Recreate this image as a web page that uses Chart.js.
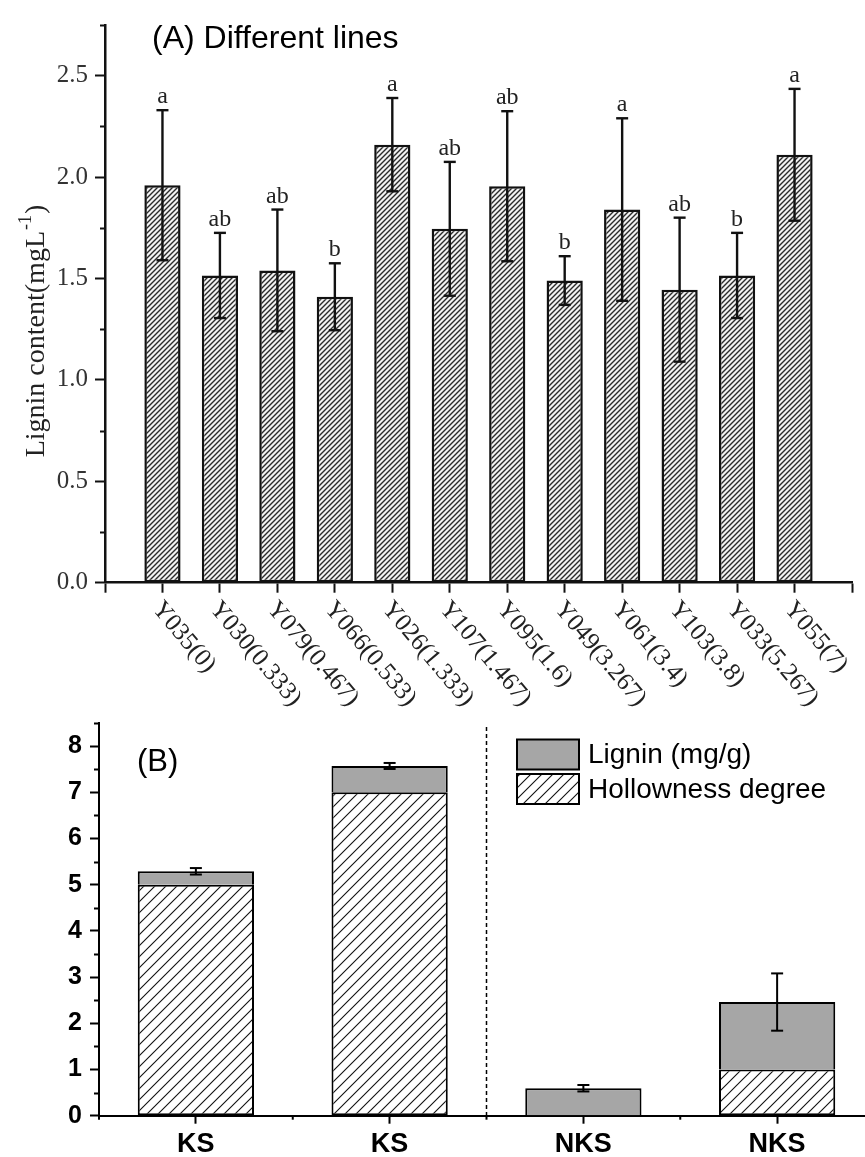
<!DOCTYPE html>
<html><head><meta charset="utf-8">
<script src="https://cdn.jsdelivr.net/npm/chart.js@4.4.0/dist/chart.umd.min.js"></script>
<style>
html,body{margin:0;padding:0;background:#fff;}
body{width:865px;height:1157px;overflow:hidden;position:relative;}
#ca{position:absolute;left:0;top:0;}
#cb{position:absolute;left:0;top:700px;}
</style></head><body>
<canvas id="ca" width="865" height="720"></canvas>
<canvas id="cb" width="880" height="457"></canvas>
<script>
// ---------- Panel A data ----------
const categoriesA = ['Y035(0)','Y030(0.333)','Y079(0.467)','Y066(0.533)','Y026(1.333)','Y107(1.467)','Y095(1.6)','Y049(3.267)','Y061(3.4)','Y103(3.8)','Y033(5.267)','Y055(7)'];
const ligninA = [1.96, 1.515, 1.54, 1.41, 2.16, 1.745, 1.955, 1.49, 1.84, 1.445, 1.515, 2.11];
const errorA = [0.37, 0.21, 0.30, 0.165, 0.23, 0.33, 0.37, 0.12, 0.45, 0.355, 0.21, 0.325];
const lettersA = ['a','ab','ab','b','a','ab','ab','b','a','ab','b','a'];
const titleA = '(A) Different lines';
const yTitleA = ['Lignin content(mgL', '-1', ')'];

// ---------- Panel B data ----------
const groupsB = ['KS','KS','NKS','NKS'];
const hollownessB = [5, 7, 0, 1];
const ligninB = [0.29, 0.57, 0.595, 1.46];
const errorB = [0.07, 0.065, 0.07, 0.62];
const titleB = '(B)';
const seriesB = ['Hollowness degree', 'Lignin (mg/g)'];

function hatch(size, lw, color, bg){
  const c=document.createElement('canvas'); c.width=size; c.height=size;
  const g=c.getContext('2d');
  if(bg){g.fillStyle=bg; g.fillRect(0,0,size,size);}
  g.strokeStyle=color; g.lineWidth=lw; g.lineCap='square';
  g.beginPath();
  g.moveTo(0,size); g.lineTo(size,0);
  g.moveTo(-size/2,size/2); g.lineTo(size/2,-size/2);
  g.moveTo(size/2,size*1.5); g.lineTo(size*1.5,size/2);
  g.stroke();
  return g.createPattern(c,'repeat');
}
function seg(ctx,x1,y1,x2,y2){ctx.beginPath();ctx.moveTo(x1,y1);ctx.lineTo(x2,y2);ctx.stroke();}

const patA = hatch(5, 1.4, '#2a2a2a', '#f2f2f2');
const patB = hatch(11, 1.1, '#111', '#ffffff');

// ---------- Chart A ----------
const labelsA = [''].concat(categoriesA, ['']);
const dataA = [null].concat(ligninA, [null]);

const decorA = {
  id:'decorA',
  afterDraw(chart){
    const {ctx, chartArea:ca, scales:{x,y}} = chart;
    ctx.save();
    // minor y ticks
    ctx.strokeStyle='#111'; ctx.lineWidth=2;
    const tv = y.ticks.map(t=>t.value);
    const step = tv[1]-tv[0];
    tv.forEach(v=>{const m=v+step/2; if(m<=y.max+1e-9){const py=Math.round(y.getPixelForValue(m))+0.5; seg(ctx,ca.left-5,py,ca.left,py);}});
    // error bars + letters
    ctx.lineWidth=2.4; ctx.strokeStyle='#111';
    ctx.font='24px "Liberation Serif", "Times New Roman", serif';
    ctx.fillStyle='#222'; ctx.textAlign='center'; ctx.textBaseline='alphabetic';
    ligninA.forEach((v,i)=>{
      const px = x.getPixelForValue(i+1);
      const top = y.getPixelForValue(v+errorA[i]);
      const bot = y.getPixelForValue(v-errorA[i]);
      seg(ctx,px,top,px,bot);
      seg(ctx,px-6,top,px+6,top);
      seg(ctx,px-6,bot,px+6,bot);
      ctx.fillText(lettersA[i], px, top-7);
    });
    // rotated x labels
    ctx.fillStyle='#222';
    ctx.font='25px "Liberation Serif", "Times New Roman", serif';
    ctx.textAlign='left'; ctx.textBaseline='middle';
    categoriesA.forEach((lab,i)=>{
      const px = x.getPixelForValue(i+1);
      ctx.save();
      ctx.translate(px-6, ca.bottom+22);
      ctx.rotate(50*Math.PI/180);
      ctx.fillText(lab,0,0);
      ctx.restore();
    });
    // y title with superscript
    ctx.save();
    ctx.translate(37, 332);
    ctx.rotate(-Math.PI/2);
    ctx.fillStyle='#222'; ctx.textBaseline='middle'; ctx.textAlign='left';
    const fMain='28px "Liberation Serif", serif', fSup='18px "Liberation Serif", serif';
    ctx.font=fMain; const w1=ctx.measureText(yTitleA[0]).width, w3=ctx.measureText(yTitleA[2]).width;
    ctx.font=fSup; const w2=ctx.measureText(yTitleA[1]).width;
    let sx=-(w1+w2+w3)/2;
    ctx.font=fMain; ctx.fillText(yTitleA[0],sx,0); sx+=w1;
    ctx.font=fSup; ctx.fillText(yTitleA[1],sx+1,-11); sx+=w2+2;
    ctx.font=fMain; ctx.fillText(yTitleA[2],sx,0);
    ctx.restore();
    // panel title
    ctx.fillStyle='#000'; ctx.font='32px "Liberation Sans", Arial, sans-serif';
    ctx.textAlign='left'; ctx.textBaseline='alphabetic';
    ctx.fillText(titleA, 152, 48);
    ctx.restore();
  }
};

new Chart(document.getElementById('ca'), {
  type:'bar',
  data:{labels:labelsA, datasets:[{label:'Lignin content', data:dataA, backgroundColor:patA, borderColor:'#111', borderWidth:2.5, borderSkipped:false, barPercentage:0.63, categoryPercentage:1.0}]},
  options:{
    responsive:false, animation:false, devicePixelRatio:1,
    layout:{padding:{top:25, right:13, left:0, bottom:0}},
    plugins:{legend:{display:false}, tooltip:{enabled:false}},
    scales:{
      x:{type:'category', offset:false,
         grid:{display:true, drawOnChartArea:false, drawTicks:true, tickLength:10, tickWidth:2, tickColor:'#111', offset:false},
         border:{display:true, color:'#111', width:2.5},
         ticks:{display:false},
         afterFit(s){s.height=137.3;}},
      y:{type:'linear', min:0, max:2.75,
         grid:{display:true, drawOnChartArea:false, drawTicks:true, tickLength:10, tickWidth:2, tickColor:'#111'},
         border:{display:true, color:'#111', width:2.5},
         ticks:{stepSize:0.5, includeBounds:false, padding:7, color:'#333', font:{family:'"Liberation Serif", "Times New Roman", serif', size:25}, callback:v=>Number(v).toFixed(1)},
         afterFit(s){s.width=105;}}
    }
  },
  plugins:[decorA]
});

// ---------- Chart B ----------
const decorB = {
  id:'decorB',
  afterDraw(chart){
    const {ctx, chartArea:ca, scales:{x,y}} = chart;
    ctx.save();
    // minor y ticks
    ctx.strokeStyle='#000'; ctx.lineWidth=2;
    const tv=y.ticks.map(t=>t.value); const step=tv[1]-tv[0];
    tv.forEach(v=>{const m=v+step/2; if(m<=y.max+1e-9){const py=Math.round(y.getPixelForValue(m))+0.5; seg(ctx,ca.left-5,py,ca.left,py);}});
    // boundary minor x ticks
    const half=(x.getPixelForValue(1)-x.getPixelForValue(0))/2;
    for(let i=0;i<=groupsB.length;i++){const px=x.getPixelForValue(0)-half+i*2*half; seg(ctx,px,ca.bottom,px,ca.bottom+4);}
    // dashed divider between KS and NKS
    const dx=(x.getPixelForValue(1)+x.getPixelForValue(2))/2;
    ctx.lineWidth=1.5; ctx.setLineDash([4,3]);
    seg(ctx,dx,ca.top+4,dx,ca.bottom+3);
    ctx.setLineDash([]);
    // error bars on lignin stack top
    ctx.lineWidth=2; ctx.strokeStyle='#000';
    ligninB.forEach((v,i)=>{
      const px=x.getPixelForValue(i);
      const tot=hollownessB[i]+v;
      const t=y.getPixelForValue(tot+errorB[i]), b=y.getPixelForValue(tot-errorB[i]);
      seg(ctx,px,t,px,b); seg(ctx,px-6,t,px+6,t); seg(ctx,px-6,b,px+6,b);
    });
    // legend (custom, inside plot)
    const ds=chart.data.datasets;
    const order=[1,0];
    const lx=517, ly=[39.5,74], bw=62, bh=30;
    ctx.font='28px "Liberation Sans", Arial, sans-serif'; ctx.textAlign='left'; ctx.textBaseline='middle'; ctx.fillStyle='#000';
    order.forEach((di,k)=>{
      ctx.fillStyle=ds[di].backgroundColor; ctx.fillRect(lx,ly[k],bw,bh);
      ctx.strokeStyle='#000'; ctx.lineWidth=2; ctx.strokeRect(lx,ly[k],bw,bh);
      ctx.fillStyle='#000'; ctx.fillText(ds[di].label, lx+bw+9, ly[k]+bh/2+1);
    });
    // panel label
    ctx.font='31px "Liberation Sans", Arial, sans-serif'; ctx.textBaseline='middle';
    ctx.fillText(titleB, 137, 62);
    ctx.restore();
  }
};

new Chart(document.getElementById('cb'), {
  type:'bar',
  data:{labels:groupsB, datasets:[
    {label:seriesB[0], data:hollownessB, backgroundColor:patB, borderColor:'#000', borderWidth:2, borderSkipped:false, barPercentage:0.6, categoryPercentage:1.0},
    {label:seriesB[1], data:ligninB, backgroundColor:'#a6a6a6', borderColor:'#000', borderWidth:2, borderSkipped:'start', barPercentage:0.6, categoryPercentage:1.0}
  ]},
  options:{
    responsive:false, animation:false, devicePixelRatio:1,
    layout:{padding:{top:20, right:6, left:0, bottom:0}},
    plugins:{legend:{display:false}, tooltip:{enabled:false}},
    scales:{
      x:{type:'category', stacked:true, offset:true,
         grid:{display:true, offset:false, drawOnChartArea:false, drawTicks:true, tickLength:8, tickWidth:2, tickColor:'#000'},
         border:{display:true, color:'#000', width:2},
         ticks:{padding:5, color:'#000', font:{family:'"Liberation Sans", Arial, sans-serif', size:27, weight:'bold'}},
         afterFit(s){s.height=41.3;}},
      y:{type:'linear', stacked:true, min:0, max:8.5,
         grid:{display:true, drawOnChartArea:false, drawTicks:true, tickLength:9, tickWidth:2, tickColor:'#000'},
         border:{display:true, color:'#000', width:2},
         ticks:{stepSize:1, includeBounds:false, padding:8, color:'#000', font:{family:'"Liberation Sans", Arial, sans-serif', size:25, weight:'bold'}},
         afterFit(s){s.width=99;}}
    }
  },
  plugins:[decorB]
});
</script>
</body></html>
